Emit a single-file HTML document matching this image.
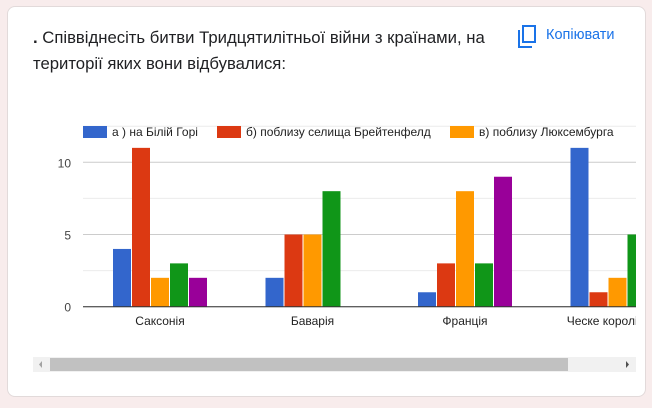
<!DOCTYPE html>
<html><head><meta charset="utf-8"><style>
body{margin:0;width:652px;height:408px;background:#f8ecec;font-family:"Liberation Sans",sans-serif;overflow:hidden;position:relative}
.card{position:absolute;left:7px;top:6px;width:637px;height:389px;background:#fff;border:1px solid #e2dada;border-radius:8px}
.title{position:absolute;left:33px;top:25px;width:470px;font-size:16.7px;line-height:26px;color:#202124}
.copy{position:absolute;left:546px;top:27px;font-size:14.5px;color:#1a73e8}
svg{position:absolute;left:0;top:0}
</style></head><body>
<div class="card"></div>
<div class="title"><b>.</b> Співвіднесіть битви Тридцятилітньої війни з країнами, на території яких вони відбувалися:</div>
<svg width="652" height="408">
<g fill="none" stroke="#1a73e8" stroke-width="2">
<path d="M519 30 v17 h13"/><rect x="523" y="26" width="12" height="16"/>
</g>
<g id="grid"></g><g id="bars"></g><g id="axis"></g><g id="legend"></g>
<g>
<rect x="33" y="357" width="603" height="15" fill="#f1f1f1"/>
<rect x="50" y="358" width="518" height="13" fill="#c1c1c1"/>
<path d="M42 361 l-3 3.5 3 3.5z" fill="#a3a3a3"/><path d="M626 361 l3 3.5 -3 3.5z" fill="#505050"/>
</g>
</svg>
<div class="copy">Копіювати</div>
<script>
const categories=["Саксонія","Баварія","Франція","Ческе королівство"];
const seriesNames=["а ) на Білій Горі","б) поблизу селища Брейтенфелд","в) поблизу Люксембурга","г)","д)"];
const colors=["#3366cc","#dc3912","#ff9900","#109618","#990099"];
const s0=[4,2,1,11];
const s1=[11,5,3,1];
const s2=[2,5,8,2];
const s3=[3,8,3,5];
const s4=[2,0,9,0];
const series=[s0,s1,s2,s3,s4];
const yTicks=[0,5,10];
const NS="http://www.w3.org/2000/svg";
const x0=83,x1=636,base=306.7,unit=14.44;
const y=v=>base-v*unit;
const gx=i=>160+i*152.5;
function mk(t,a,p){const e=document.createElementNS(NS,t);for(const k in a)e.setAttribute(k,a[k]);p.appendChild(e);return e;}
const grid=document.getElementById('grid'),bars=document.getElementById('bars'),axis=document.getElementById('axis'),leg=document.getElementById('legend');
for(let v=0;v<=12.5;v+=2.5){const l=mk('line',{x1:x0,x2:x1,y1:y(v),y2:y(v),stroke:v%5==0?'#cccccc':'#ebebeb'},grid);

}
yTicks.forEach(v=>{const t=mk('text',{x:71,y:y(v)+5,'text-anchor':'end','font-size':12,fill:'#444'},axis);t.textContent=v;

});
const clip=mk('clipPath',{id:'cp'},bars);mk('rect',{x:x0,y:0,width:x1-x0,height:408},clip);
const bg=mk('g',{'clip-path':'url(#cp)'},bars);
const bw=18,step=19;
categories.forEach((c,i)=>{series.forEach((s,j)=>{if(!s[i])return;const r=mk('rect',{x:gx(i)-2.5*step+j*step+0.5,y:y(s[i]),width:bw,height:s[i]*unit,fill:colors[j]},bg);

});
const t=mk('text',{x:gx(i),y:325,'text-anchor':'middle','font-size':12,fill:'#222'},bg);t.textContent=c;

});
mk('line',{x1:x0,x2:x1,y1:base,y2:base,stroke:'#333','stroke-width':1},axis);
const lx=[83,217,450];
[0,1,2].forEach(j=>{const g=mk('g',{},leg);


mk('rect',{x:lx[j],y:126,width:24,height:12,fill:colors[j]},g);
const t=mk('text',{x:lx[j]+29,y:136,'font-size':12,fill:'#222'},g);t.textContent=seriesNames[j];});
</script>
</body></html>
